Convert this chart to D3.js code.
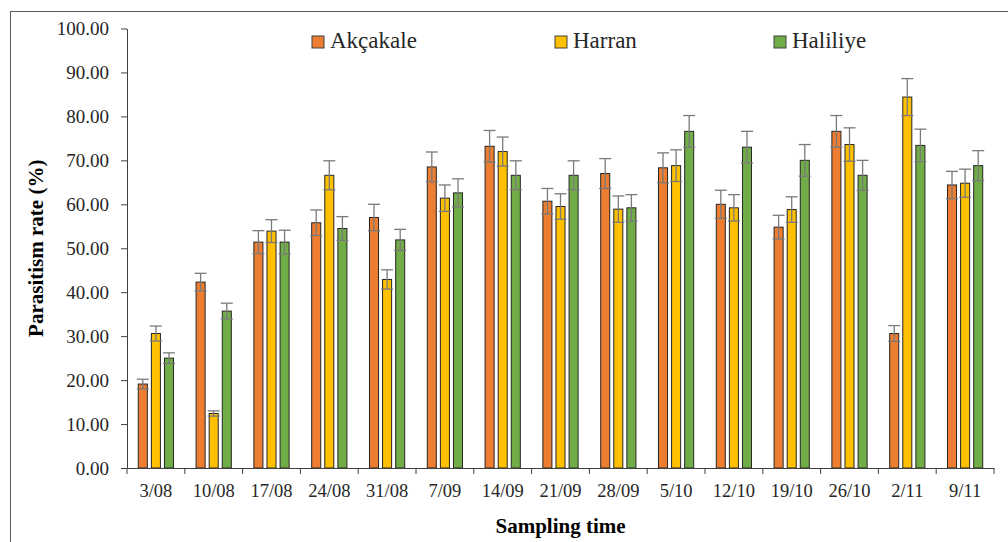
<!DOCTYPE html>
<html>
<head>
<meta charset="utf-8">
<script src="https://cdn.jsdelivr.net/npm/d3@7"></script>
<style>
    body { margin: 0; background: #fff; }
</style>
</head>
<body>
<svg id="chart" width="1008" height="542"></svg>
<script>
// Sampling dates and parasitism rates (%) per district
const categories = ["3/08", "10/08", "17/08", "24/08", "31/08", "7/09", "14/09", "21/09",
    "28/09", "5/10", "12/10", "19/10", "26/10", "2/11", "9/11"];
const seriesNames = ["Akçakale", "Harran", "Haliliye"];
const seriesColors = ["#ED7D31", "#FFC000", "#70AD47"];

const akcakale = [19.1, 42.3, 51.4, 55.8, 57.0, 68.5, 73.2, 60.7, 67.0, 68.3, 60.0, 54.8, 76.6, 30.6, 64.4];
const harran = [30.6, 12.4, 53.9, 66.6, 42.9, 61.4, 72.0, 59.5, 58.9, 68.8, 59.2, 58.8, 73.6, 84.4, 64.8];
const haliliye = [25.0, 35.7, 51.4, 54.5, 51.9, 62.6, 66.6, 66.6, 59.2, 76.6, 73.0, 70.0, 66.6, 73.4, 68.8];

const akcakaleErr = [1.1, 2.0, 2.6, 2.9, 3.0, 3.4, 3.6, 2.9, 3.4, 3.4, 3.2, 2.7, 3.6, 1.8, 3.1];
const harranErr = [1.7, 0.6, 2.6, 3.3, 2.2, 3.0, 3.3, 2.9, 3.0, 3.6, 3.0, 2.9, 3.8, 4.2, 3.2];
const haliliyeErr = [1.2, 1.8, 2.7, 2.7, 2.4, 3.2, 3.3, 3.3, 3.0, 3.6, 3.6, 3.6, 3.4, 3.7, 3.4];

const yTicks = [0, 10, 20, 30, 40, 50, 60, 70, 80, 90, 100];

const values = [akcakale, harran, haliliye];
const errors = [akcakaleErr, harranErr, haliliyeErr];

const FONT = "'Liberation Serif', 'DejaVu Serif', serif";

const svg = d3.select("#chart");
const plotLeft = 127, plotRight = 994, plotTop = 28.5, plotBottom = 468;

// outer frame
svg.append("rect")
    .attr("x", 10.5).attr("y", 11.5)
    .attr("width", 1010).attr("height", 560)
    .attr("fill", "none")
    .attr("stroke", "#595959")
    .attr("stroke-width", 1);

const x0 = d3.scaleBand().domain(categories).range([plotLeft, plotRight])
    .paddingInner(0.25).paddingOuter(0.125);
const x1 = d3.scaleBand().domain(seriesNames).range([0, x0.bandwidth()])
    .padding(0.31);
const y = d3.scaleLinear().domain([0, 100]).range([plotBottom, plotTop]);

// bars
const rows = [];
categories.forEach((c, i) => {
    seriesNames.forEach((s, j) => {
        rows.push({ cat: c, series: s, value: values[j][i], err: errors[j][i], color: seriesColors[j] });
    });
});

svg.append("g").selectAll("rect")
    .data(rows)
    .join("rect")
    .attr("x", d => x0(d.cat) + x1(d.series))
    .attr("y", d => y(d.value))
    .attr("width", x1.bandwidth())
    .attr("height", d => y(0) - y(d.value))
    .attr("fill", d => d.color)
    .attr("stroke", "#262626")
    .attr("stroke-width", 1);

// error bars
const eb = svg.append("g").attr("stroke", "#7a7a7a").attr("stroke-width", 1.3);
rows.forEach(d => {
    const cx = x0(d.cat) + x1(d.series) + x1.bandwidth() / 2;
    const hi = y(d.value + d.err), lo = y(d.value - d.err);
    eb.append("line").attr("x1", cx).attr("x2", cx).attr("y1", hi).attr("y2", lo);
    eb.append("line").attr("x1", cx - 6).attr("x2", cx + 6).attr("y1", hi).attr("y2", hi);
    eb.append("line").attr("x1", cx - 6).attr("x2", cx + 6).attr("y1", lo).attr("y2", lo);
});

// y axis
const yAxis = svg.append("g")
    .attr("transform", `translate(${plotLeft},0)`)
    .call(d3.axisLeft(y).tickValues(yTicks).tickFormat(d3.format(".2f")).tickSize(6).tickSizeOuter(0).tickPadding(12));
yAxis.attr("font-family", FONT);
yAxis.selectAll("path, line").attr("stroke", "#404040");
yAxis.selectAll("text").style("font-family", FONT).style("font-size", "19px").attr("fill", "#262626");

// x axis: labels in the middle, ticks on category boundaries
const xAxis = svg.append("g")
    .attr("transform", `translate(0,${plotBottom})`)
    .call(d3.axisBottom(x0).tickSize(0).tickSizeOuter(0).tickPadding(16));
xAxis.attr("font-family", FONT);
xAxis.select("path").attr("stroke", "#404040");
xAxis.selectAll("text").style("font-family", FONT).style("font-size", "18.5px").attr("fill", "#262626");

const half = x0.step() * x0.paddingInner() / 2;
const boundaries = categories.map(c => x0(c) - half).concat([plotRight]);
xAxis.append("g").selectAll("line")
    .data(boundaries)
    .join("line")
    .attr("x1", d => d).attr("x2", d => d)
    .attr("y1", 0).attr("y2", 6)
    .attr("stroke", "#404040");

// axis titles
svg.append("text")
    .attr("transform", `translate(43,${(plotTop + plotBottom) / 2}) rotate(-90)`)
    .attr("text-anchor", "middle")
    .attr("fill", "#000")
    .style("font-family", FONT)
    .style("font-size", "21px")
    .style("font-weight", "bold")
    .text("Parasitism rate (%)");

svg.append("text")
    .attr("x", (plotLeft + plotRight) / 2)
    .attr("y", 533)
    .attr("text-anchor", "middle")
    .attr("fill", "#000")
    .style("font-family", FONT)
    .style("font-size", "21px")
    .style("font-weight", "bold")
    .text("Sampling time");

// legend
const legendX = [312, 555, 774];
const legend = svg.append("g").selectAll("g")
    .data(seriesNames)
    .join("g")
    .attr("transform", (d, i) => `translate(${legendX[i]},36)`);
legend.append("rect")
    .attr("width", 12).attr("height", 12)
    .attr("fill", (d, i) => seriesColors[i])
    .attr("stroke", "#404040");
legend.append("text")
    .attr("x", 18).attr("y", 12)
    .attr("fill", "#262626")
    .style("font-family", FONT)
    .style("font-size", "23px")
    .text(d => d);
</script>
</body>
</html>
